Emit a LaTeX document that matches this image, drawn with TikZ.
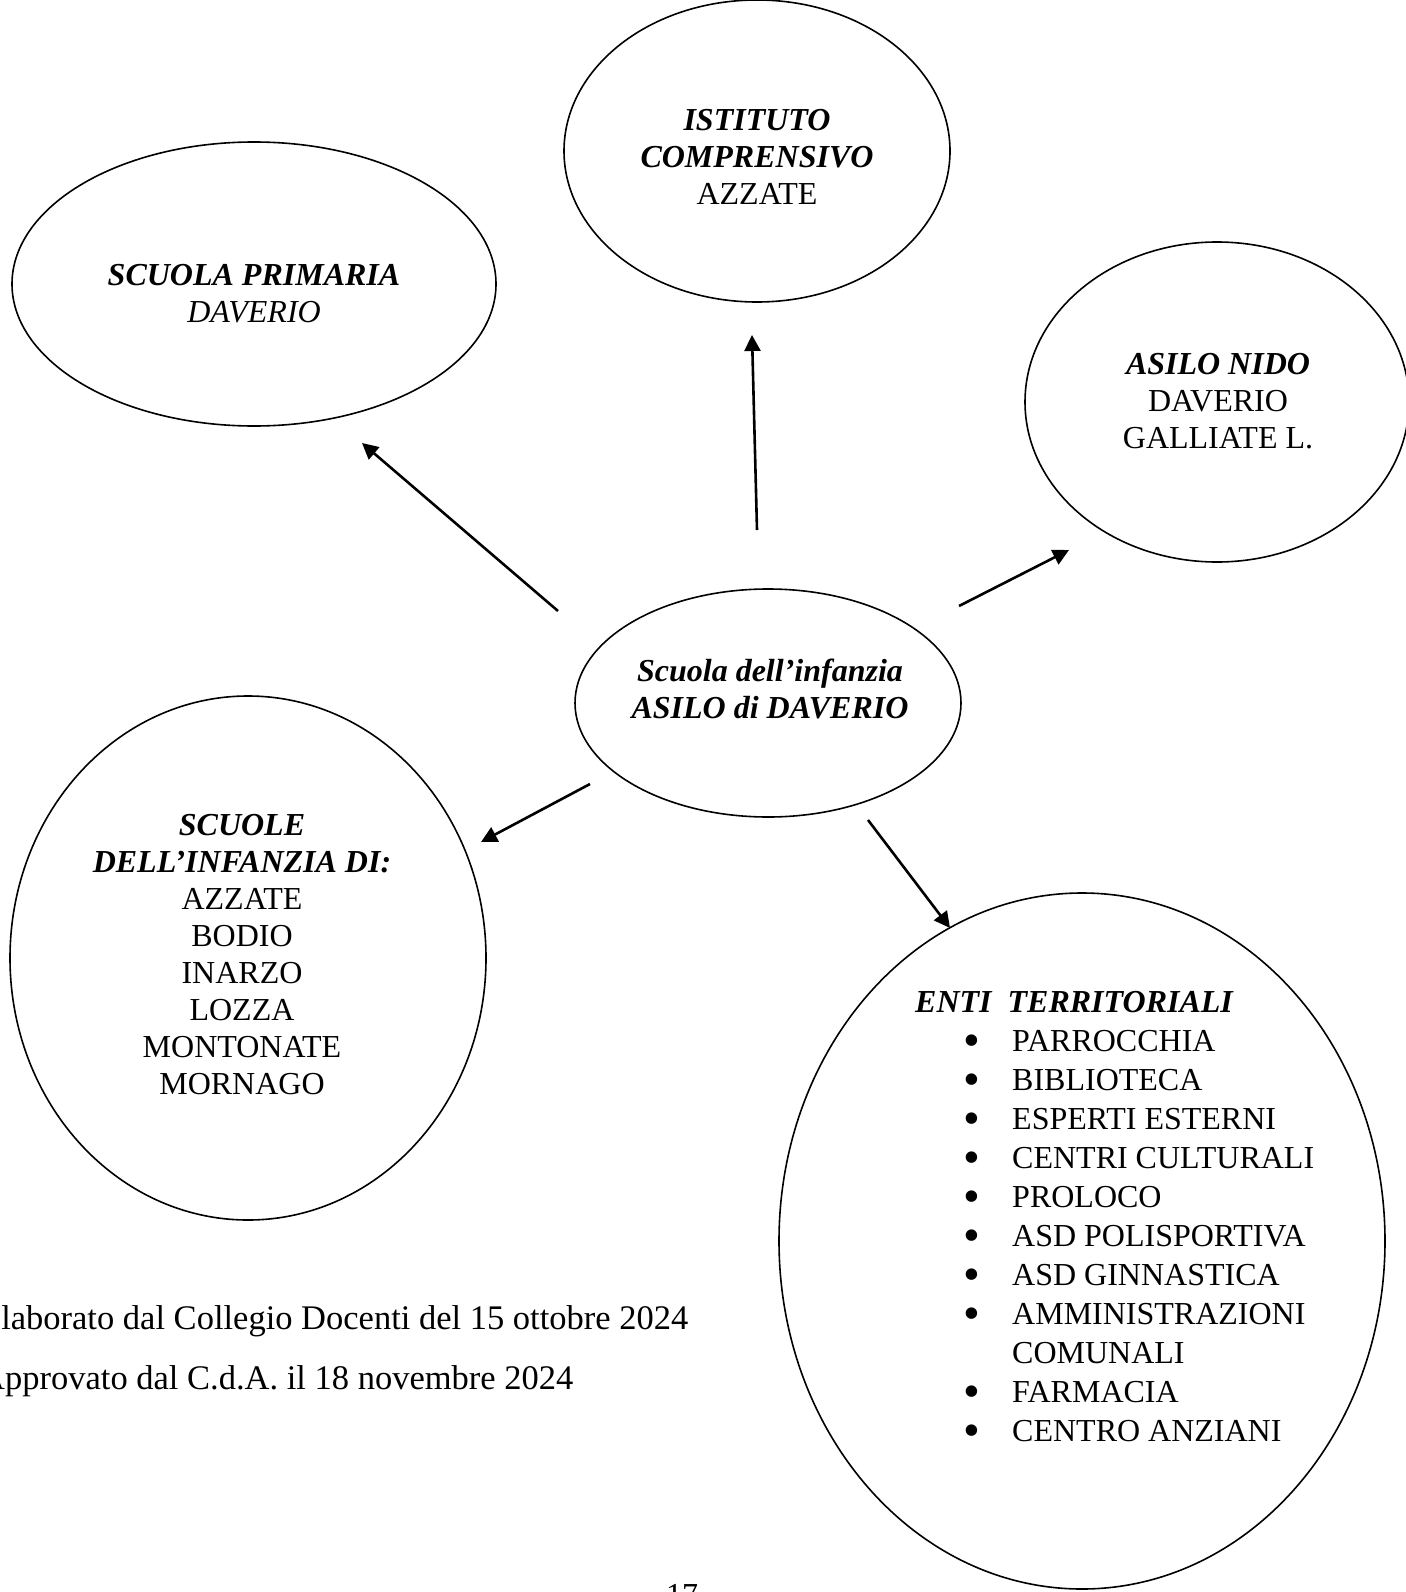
\documentclass[tikz,border=0pt]{standalone}
\usepackage{fontspec}
\setmainfont{Liberation Serif}
\usetikzlibrary{shapes.geometric,arrows.meta}
\newcommand\blt{\makebox[48.5pt][l]{\smash{\raisebox{-5pt}{\fontsize{48}{39}\selectfont\textbullet}}}}
\begin{document}
\begin{tikzpicture}[x=1pt,y=-1pt,
		oval/.style={draw,ellipse,line width=1.6pt,inner sep=0pt},
		txt/.style={align=center,inner sep=0pt,font=\fontsize{32}{37}\selectfont},
		arr/.style={line width=2.6pt,-{Triangle[length=16pt,width=16pt]}}]
	\useasboundingbox (0,0) rectangle (1405,1592);
	\node [oval,minimum width=386pt,minimum height=302pt] (ist) at (757,151) {};
	\node [oval,minimum width=484pt,minimum height=284pt] (prim) at (254,284) {};
	\node [oval,minimum width=384pt,minimum height=320pt] (nido) at (1217,402) {};
	\node [oval,minimum width=386pt,minimum height=228pt] (ctr) at (768,703) {};
	\node [oval,minimum width=476pt,minimum height=524pt] (inf) at (248,958) {};
	\node [oval,minimum width=606pt,minimum height=696pt] (enti) at (1082,1241) {};
	\node [txt] (istT) at (757,157) {{\bfseries\itshape ISTITUTO}\\{\bfseries\itshape COMPRENSIVO}\\AZZATE};
	\node [txt] (primT) at (254,294) {{\bfseries\itshape SCUOLA PRIMARIA}\\{\itshape DAVERIO}};
	\node [txt] (nidoT) at (1218,401) {{\bfseries\itshape ASILO NIDO}\\DAVERIO\\GALLIATE L.};
	\node [txt] (ctrT) at (770,689) {{\bfseries\itshape Scuola dell’infanzia}\\{\bfseries\itshape ASILO di DAVERIO}};
	\node [txt] (infT) at (242,955) {{\bfseries\itshape SCUOLE}\\{\bfseries\itshape DELL’INFANZIA DI:}\\AZZATE\\BODIO\\INARZO\\LOZZA\\MONTONATE\\MORNAGO};
	\node [txt,anchor=base west] (entiT) at (915,1012) {\bfseries\itshape ENTI\ \ TERRITORIALI};
	\node [txt,align=left,anchor=north west,font=\fontsize{32}{39}\selectfont] (entiL) at (963.5,1030)
		{\blt PARROCCHIA\\\blt BIBLIOTECA\\\blt ESPERTI ESTERNI\\\blt CENTRI CULTURALI\\
		\blt PROLOCO\\\blt ASD POLISPORTIVA\\\blt ASD GINNASTICA\\\blt AMMINISTRAZIONI\\
		\hspace*{48.5pt}COMUNALI\\\blt FARMACIA\\\blt CENTRO ANZIANI};
	\coordinate (s1) at (558,611); \coordinate (e1) at (362,443);
	\coordinate (s2) at (757,530); \coordinate (e2) at (752,335);
	\coordinate (s3) at (959,606); \coordinate (e3) at (1069,550);
	\coordinate (s4) at (590,784); \coordinate (e4) at (481,842);
	\coordinate (s5) at (868,820); \coordinate (e5) at (950,928);
	\draw [arr] (s1) -- (e1);
	\draw [arr] (s2) -- (e2);
	\draw [arr] (s3) -- (e3);
	\draw [arr] (s4) -- (e4);
	\draw [arr] (s5) -- (e5);
	\node [txt,align=left,anchor=base west,font=\fontsize{34.5}{60}\selectfont] (note) at (-20,1389)
		{Elaborato dal Collegio Docenti del 15 ottobre 2024\\Approvato dal C.d.A. il 18 novembre 2024};
	\node [txt,anchor=base] (pag) at (682,1605) {17};
\end{tikzpicture}
\end{document}
